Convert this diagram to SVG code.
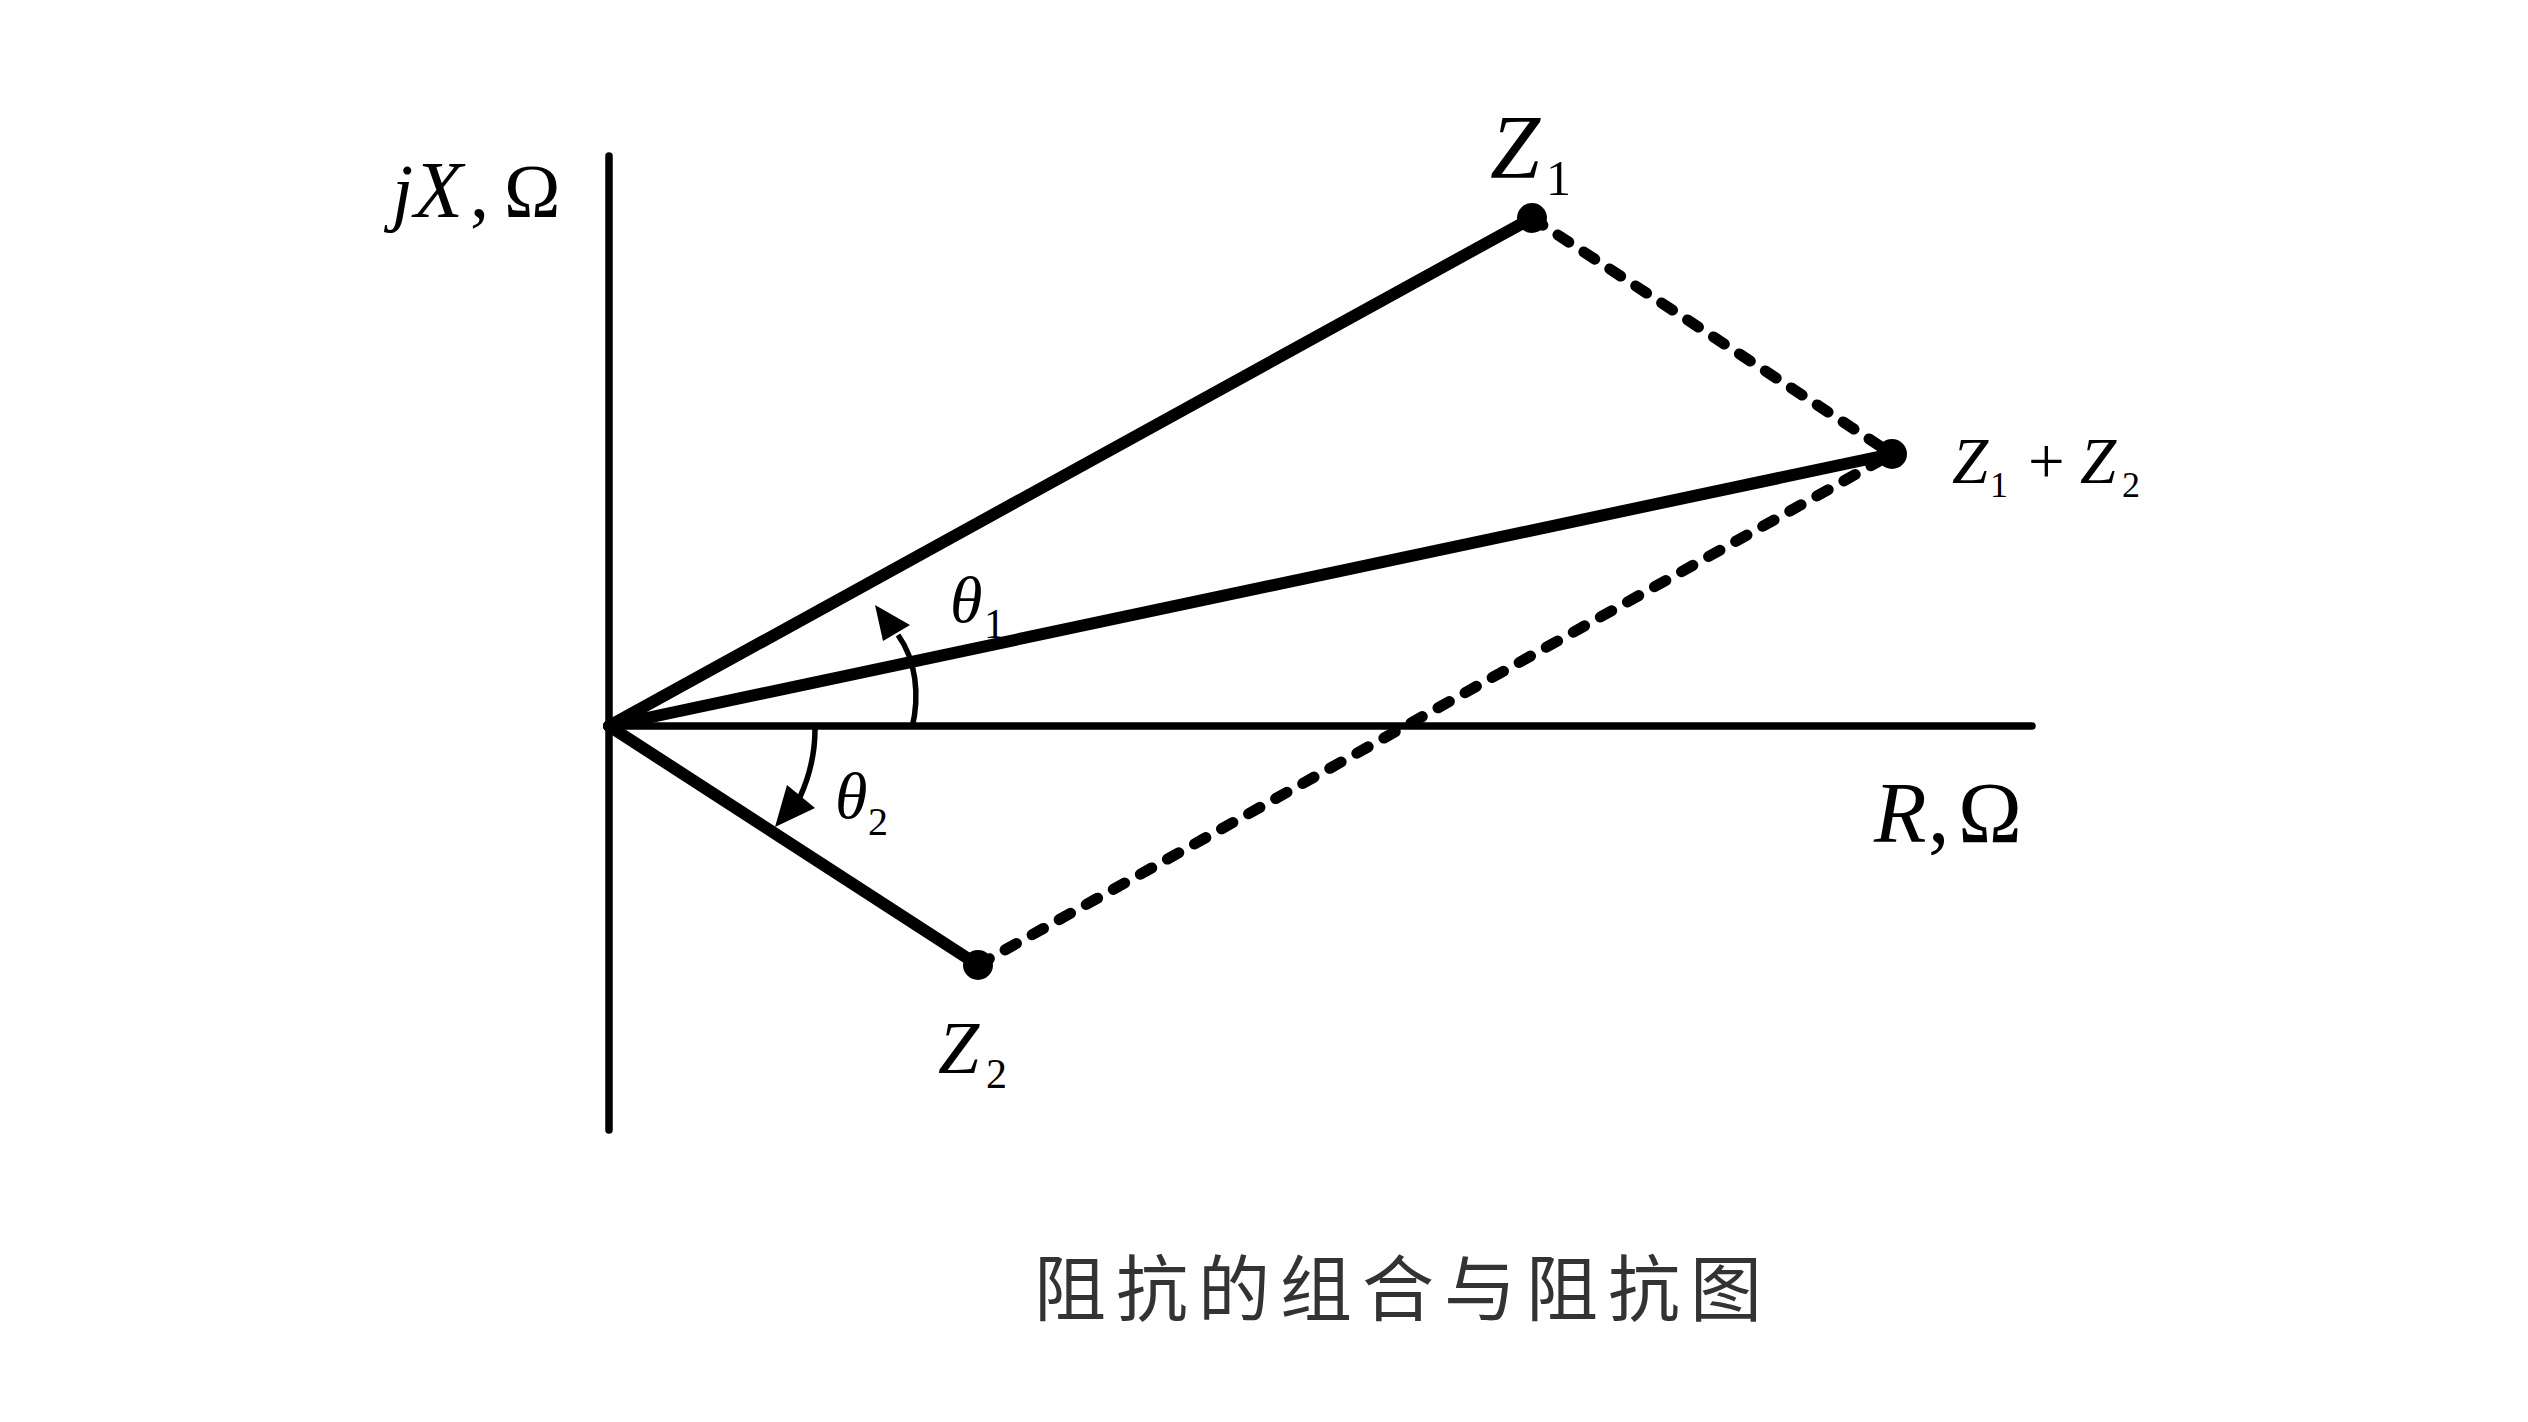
<svg xmlns="http://www.w3.org/2000/svg" width="2528" height="1422" viewBox="0 0 2528 1422">
<style>
.m{font-family:"Liberation Serif","Times New Roman",serif;fill:#000}
.i{font-style:italic}
.axis{stroke:#000;stroke-width:7.5;stroke-linecap:round;fill:none}
.vec{stroke:#000;stroke-width:12;stroke-linecap:round;fill:none}
.dash{stroke:#000;stroke-width:11;stroke-linecap:round;stroke-dasharray:13 18;fill:none}
.arc{stroke:#000;stroke-width:5.5;fill:none}
.dot{fill:#000}
.cap{font-family:"Noto Sans CJK SC","Noto Sans CJK TC",sans-serif;fill:#333;font-size:72px;letter-spacing:10px}
</style>
<rect width="2528" height="1422" fill="#fff"/>
<g id="axes">
<line class="axis" x1="609" y1="156" x2="609" y2="1130"/>
<line class="axis" x1="609" y1="726" x2="2032" y2="726"/>
<text class="m" font-size="76" y="217"><tspan class="i" x="392">j</tspan><tspan class="i" x="414" font-size="80">X</tspan><tspan x="470">,</tspan><tspan x="504">Ω</tspan></text>
<text class="m" font-size="86" y="842"><tspan class="i" x="1874">R</tspan><tspan x="1928">,</tspan><tspan x="1958">Ω</tspan></text>
</g>
<g id="connectors">
<line class="vec" x1="609" y1="726" x2="1532" y2="218"/>
<line class="vec" x1="609" y1="726" x2="1892" y2="454"/>
<line class="vec" x1="609" y1="726" x2="978" y2="965"/>
<line class="dash" x1="1532" y1="218" x2="1892" y2="454"/>
<line class="dash" x1="978" y1="965" x2="1892" y2="454"/>
</g>
<g id="Z1">
<circle class="dot" cx="1532" cy="218" r="15"/>
<text class="m" y="178"><tspan class="i" x="1490" font-size="90">Z</tspan><tspan x="1546" y="195" font-size="50">1</tspan></text>
</g>
<g id="Zsum">
<circle class="dot" cx="1892" cy="454" r="15"/>
<text class="m" font-size="65" y="483"><tspan class="i" x="1952">Z</tspan><tspan x="1990" y="497" font-size="36">1</tspan><tspan x="2028" y="483">+</tspan><tspan class="i" x="2080" y="483">Z</tspan><tspan x="2122" y="497" font-size="36">2</tspan></text>
</g>
<g id="Z2">
<circle class="dot" cx="978" cy="965" r="15"/>
<text class="m" y="1073"><tspan class="i" x="938" font-size="74">Z</tspan><tspan x="986" y="1088" font-size="42">2</tspan></text>
</g>
<g id="theta1">
<path class="arc" d="M 912 728 C 920 695 916 660 898 635"/>
<polygon class="dot" points="875,605 883,641 910,625"/>
<text class="m" y="622"><tspan class="i" x="950" font-size="66">θ</tspan><tspan x="984" y="638" font-size="42">1</tspan></text>
</g>
<g id="theta2">
<path class="arc" d="M 815 729 C 815 755 810 775 800 797"/>
<polygon class="dot" points="775,827 787,785 815,808"/>
<text class="m" y="818"><tspan class="i" x="835" font-size="66">θ</tspan><tspan x="868" y="835" font-size="40">2</tspan></text>
</g>
<g id="caption">
<text class="cap" x="1034" y="1315">阻抗的组合与阻抗图</text>
</g>
</svg>
